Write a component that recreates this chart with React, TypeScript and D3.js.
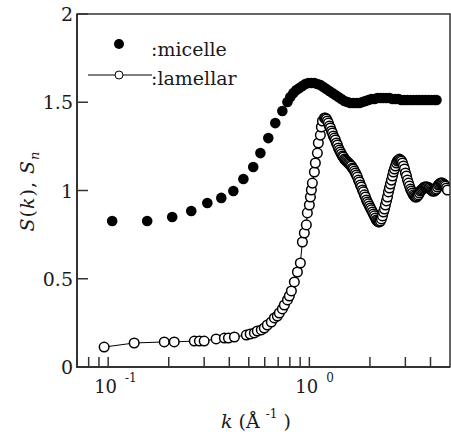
import React from "react";
import * as d3 from "d3";

// ---- data ----
const micelleK = [0.1047, 0.1563, 0.2081, 0.2588, 0.311, 0.365, 0.419, 0.47, 0.526, 0.571, 0.625, 0.677, 0.734, 0.778, 0.804, 0.833, 0.862, 0.892, 0.923, 0.955, 0.989, 1.023, 1.059, 1.096, 1.134, 1.174, 1.215, 1.257, 1.301, 1.347, 1.394, 1.443, 1.493, 1.546, 1.6, 1.655, 1.713, 1.774, 1.835, 1.9, 1.966, 2.035, 2.106, 2.18, 2.256, 2.335, 2.416, 2.5, 2.588, 2.679, 2.772, 2.869, 2.969, 3.073, 3.181, 3.292, 3.407, 3.526, 3.649, 3.777, 3.909, 4.046, 4.187, 4.284];
const micelleS = [0.827, 0.827, 0.85, 0.884, 0.929, 0.958, 0.997, 1.065, 1.133, 1.212, 1.297, 1.382, 1.45, 1.501, 1.53, 1.552, 1.569, 1.581, 1.592, 1.603, 1.609, 1.609, 1.609, 1.603, 1.598, 1.586, 1.575, 1.564, 1.552, 1.541, 1.53, 1.518, 1.507, 1.501, 1.496, 1.496, 1.496, 1.496, 1.501, 1.507, 1.513, 1.518, 1.518, 1.524, 1.524, 1.524, 1.524, 1.524, 1.518, 1.518, 1.518, 1.513, 1.513, 1.513, 1.513, 1.513, 1.513, 1.513, 1.513, 1.513, 1.513, 1.513, 1.513, 1.513];

const lamellarK = [0.0955, 0.1347, 0.19, 0.213, 0.268, 0.284, 0.3, 0.344, 0.378, 0.396, 0.424, 0.486, 0.508, 0.533, 0.551, 0.577, 0.597, 0.618, 0.647, 0.67, 0.693, 0.709, 0.734, 0.751, 0.778, 0.795, 0.814, 0.842, 0.872, 0.902, 0.923, 0.944, 0.966, 0.977, 1.0, 1.012, 1.023, 1.035, 1.059, 1.071, 1.096, 1.108, 1.134, 1.147, 1.161, 1.188,
  1.201, 1.215, 1.229, 1.243, 1.257, 1.272, 1.287, 1.301, 1.316, 1.332, 1.347, 1.362, 1.378, 1.394, 1.41, 1.426, 1.443, 1.459, 1.476, 1.493, 1.51, 1.528, 1.545, 1.563, 1.581, 1.599, 1.618, 1.636, 1.655, 1.674, 1.694, 1.713, 1.733, 1.753, 1.773, 1.793, 1.814, 1.835, 1.856, 1.878, 1.899, 1.921, 1.943, 1.966, 1.988, 2.011, 2.034, 2.058, 2.081, 2.105, 2.13, 2.154, 2.179, 2.204, 2.23, 2.255, 2.281, 2.308, 2.334, 2.361, 2.388, 2.416, 2.444, 2.472, 2.5, 2.529, 2.558, 2.588, 2.617, 2.648, 2.678, 2.709, 2.74, 2.772, 2.804, 2.836, 2.869, 2.902, 2.935, 2.969, 3.003, 3.038, 3.073, 3.108, 3.144, 3.18, 3.217, 3.254, 3.291, 3.329, 3.367, 3.406, 3.445, 3.485, 3.525, 3.566, 3.607, 3.648, 3.69, 3.733, 3.776, 3.819, 3.863, 3.908, 3.953, 3.998, 4.044, 4.091, 4.138, 4.186, 4.234, 4.283, 4.332, 4.382, 4.432, 4.483, 4.535, 4.587, 4.642, 4.695, 4.749, 4.804, 4.859];
const lamellarS = [0.113, 0.136, 0.142, 0.142, 0.147, 0.147, 0.147, 0.159, 0.164, 0.164, 0.17, 0.181, 0.187, 0.193, 0.204, 0.21, 0.221, 0.238, 0.255, 0.278, 0.289, 0.306, 0.329, 0.351, 0.38, 0.402, 0.431, 0.482, 0.538, 0.589, 0.708, 0.759, 0.805, 0.873, 0.918, 0.963, 1.003, 1.042, 1.105, 1.156, 1.212, 1.269, 1.314, 1.36, 1.394, 1.411,
  1.411, 1.405, 1.394, 1.382, 1.365, 1.354, 1.337, 1.326, 1.309, 1.297, 1.286, 1.269, 1.258, 1.241, 1.229, 1.218, 1.207, 1.195, 1.19, 1.178, 1.173, 1.167, 1.161, 1.156, 1.15, 1.144, 1.139, 1.127, 1.122, 1.11, 1.099, 1.088, 1.076, 1.059, 1.048, 1.031, 1.02, 1.003, 0.992, 0.975, 0.963, 0.946, 0.935, 0.924, 0.912, 0.901, 0.89, 0.878, 0.867, 0.856, 0.844, 0.833, 0.827, 0.822, 0.822, 0.827, 0.839, 0.856, 0.878, 0.895, 0.918, 0.941, 0.963, 0.992, 1.014, 1.037, 1.059, 1.082, 1.105, 1.122, 1.139, 1.156, 1.167, 1.173, 1.178, 1.173, 1.167, 1.156, 1.139, 1.122, 1.099, 1.082, 1.059, 1.042, 1.025, 1.008, 0.997, 0.986, 0.975, 0.969, 0.963, 0.963, 0.969, 0.975, 0.986, 0.997, 1.003, 1.008, 1.014, 1.02, 1.02, 1.02, 1.02, 1.014, 1.014, 1.008, 1.003, 0.997, 0.997, 0.997, 1.003, 1.008, 1.02, 1.031, 1.037, 1.042, 1.042, 1.042, 1.037, 1.031, 1.025, 1.014, 1.003];

const yTicks = [0, 0.5, 1, 1.5, 2];
const yTickLabels = ["0", "0.5", "1", "1.5", "2"];
const xMajorTicks = [0.1, 1];
const xMajorExps = ["-1", "0"];
const xMinorTicks = [0.08, 0.09, 0.2, 0.3, 0.4, 0.5, 0.6, 0.7, 0.8, 0.9, 2, 3, 4];
const legendLabels = [":micelle", ":lamellar"];

const W = 451, H = 438;
const L = 77, R = 450, T = 14, B = 367;
const FONT = "DejaVu Serif";
const INK = "#1a1a1a";

export default function App() {
  const x = d3.scaleLog().domain([0.07, 5]).range([L, R]);
  const y = d3.scaleLinear().domain([0, 2]).range([B, T]);
  const micelle = micelleK.map((k, i) => [k, micelleS[i]] as [number, number]);
  const lamellar = lamellarK.map((k, i) => [k, lamellarS[i]] as [number, number]);
  const line = d3.line<[number, number]>().x(d => x(d[0])).y(d => y(d[1]));
  const ts = { fontFamily: FONT } as React.CSSProperties;

  return (
    <div style={{ position: "absolute", left: 0, top: 0 }}>
      <svg width={W} height={H} style={{ display: "block", background: "#fff" }}>
        <defs>
          <clipPath id="plot">
            <rect x={L} y={T} width={R - L} height={B - T} />
          </clipPath>
        </defs>
        <g clipPath="url(#plot)">
          {micelle.map((d, i) => (
            <circle key={"m" + i} cx={x(d[0])} cy={y(d[1])} r={5.3} fill="#000" />
          ))}
          <path d={line(lamellar) || ""} fill="none" stroke="#000" strokeWidth={1} />
          {lamellar.map((d, i) => (
            <circle key={"l" + i} cx={x(d[0])} cy={y(d[1])} r={4.8} fill="#fff" stroke="#000" strokeWidth={1.5} />
          ))}
        </g>
        <rect x={L} y={T} width={R - L} height={B - T} fill="none" stroke="#333" strokeWidth={1.5} />
        <line x1={L} x2={L} y1={T} y2={B + 1} stroke="#333" strokeWidth={2} />
        <line x1={L - 1} x2={R} y1={B} y2={B} stroke="#333" strokeWidth={2} />
        {yTicks.map((t, i) => (
          <g key={"yt" + i}>
            <line x1={L} x2={L + 11} y1={y(t)} y2={y(t)} stroke="#333" strokeWidth={1.5} />
            <text style={ts} x={73} y={y(t) + 7} textAnchor="end" fontSize={19} fill={INK}>{yTickLabels[i]}</text>
          </g>
        ))}
        {xMinorTicks.map((t, i) => (
          <line key={"xm" + i} x1={x(t)} x2={x(t)} y1={B} y2={B - 10} stroke="#333" strokeWidth={1.5} />
        ))}
        {xMajorTicks.map((t, i) => (
          <g key={"xM" + i}>
            <line x1={x(t)} x2={x(t)} y1={B} y2={B - 10} stroke="#333" strokeWidth={1.5} />
            <text style={ts} x={x(t) - 14} y={393} fontSize={18} fill={INK}>
              10
              <tspan dx={8} dy={-11} fontSize={12}>{xMajorExps[i]}</tspan>
            </text>
          </g>
        ))}
        <text style={ts} x={221} y={428} fontSize={19} fill={INK}>
          <tspan fontStyle="italic">k</tspan>
          <tspan> (Å</tspan>
          <tspan dx={6} dy={-10} fontSize={12}>-1</tspan>
          <tspan dx={6} dy={10}>)</tspan>
        </text>
        <text style={ts} transform="translate(34,191) rotate(-90)" textAnchor="middle" fontSize={19} fill={INK} letterSpacing={1}>
          <tspan fontStyle="italic">S</tspan>
          <tspan>(</tspan>
          <tspan fontStyle="italic">k</tspan>
          <tspan>), </tspan>
          <tspan fontStyle="italic">S</tspan>
          <tspan fontStyle="italic" fontSize={13} dy={5}>n</tspan>
        </text>
        <circle cx={119} cy={44} r={5} fill="#000" />
        <text style={ts} x={151} y={56} fontSize={19} fill={INK}>{legendLabels[0]}</text>
        <line x1={88} x2={152} y1={75} y2={75} stroke="#000" strokeWidth={1} />
        <circle cx={119} cy={75} r={4} fill="#fff" stroke="#000" strokeWidth={1} />
        <text style={ts} x={151} y={85} fontSize={19} fill={INK}>{legendLabels[1]}</text>
      </svg>
    </div>
  );
}
